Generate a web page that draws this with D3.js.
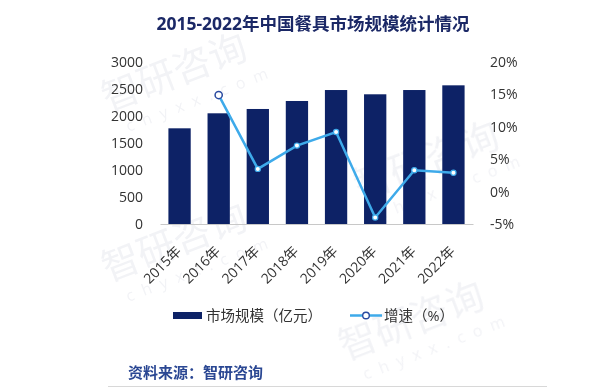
<!DOCTYPE html>
<html>
<head>
<meta charset="utf-8">
<script src="https://cdn.jsdelivr.net/npm/d3@7"></script>
<style>
  html, body { margin: 0; padding: 0; background: #fff; }
  svg text { font-family: "Open Sans", "Noto Sans CJK SC", sans-serif; }
</style>
</head>
<body>
<svg id="chart"></svg>
<script>
// data
const years = ['2015年', '2016年', '2017年', '2018年', '2019年', '2020年', '2021年', '2022年'];
const marketSize = [1772, 2050, 2130, 2278, 2481, 2402, 2481, 2568];   // 亿元
const growth = [null, 14.9, 3.5, 7.1, 9.2, -4.0, 3.3, 2.9];            // %
const leftTicks = [0, 500, 1000, 1500, 2000, 2500, 3000];
const rightTicks = [-5, 0, 5, 10, 15, 20];

const W = 612, H = 391;
const colors = { bar: '#0d2266', line: '#3eaaea', title: '#1b2866', text: '#333', source: '#2a4793' };

const svg = d3.select('#chart').attr('width', W).attr('height', H);
svg.append('rect').attr('width', W).attr('height', H).attr('fill', '#fff');

// watermarks (faint), kept inside the card
const wm = svg.append('g').attr('fill', '#1b2866').attr('opacity', 0.055);
const wmSpots = [[108, 112], [108, 282], [360, 200], [345, 360]];
wmSpots.forEach(p => {
  const g = wm.append('g').attr('transform', `translate(${p[0]},${p[1]}) rotate(-21)`);
  g.append('text').attr('font-size', 38).attr('x', 0).attr('y', 0).text('智研咨询');
  g.append('text').attr('font-size', 16).attr('x', 12).attr('y', 26)
    .attr('letter-spacing', 9).text('chyxx.com');
});

// title
svg.append('text')
  .attr('x', 313).attr('y', 30)
  .attr('text-anchor', 'middle')
  .attr('font-size', 17.5).attr('font-weight', 'bold')
  .attr('fill', colors.title)
  .text('2015-2022年中国餐具市场规模统计情况');

// scales
const x = d3.scaleBand().domain(years).range([160, 473]).paddingInner(0.43).paddingOuter(0.215);
const yL = d3.scaleLinear().domain([0, 3000]).range([224, 62]);
const yR = d3.scaleLinear().domain([-5, 20]).range([224, 62]);

// left axis
const leftAxis = svg.append('g').attr('transform', 'translate(143,0)')
  .call(d3.axisLeft(yL).tickValues(leftTicks).tickSize(0).tickPadding(0).tickFormat(d3.format('d')));
leftAxis.select('.domain').remove();
leftAxis.selectAll('text').attr('font-size', 14).attr('fill', colors.text)
  .attr('font-family', '"Open Sans", sans-serif');

// right axis
const rightAxis = svg.append('g').attr('transform', 'translate(490,0)')
  .call(d3.axisRight(yR).tickValues(rightTicks).tickSize(0).tickPadding(0).tickFormat(d => d + '%'));
rightAxis.select('.domain').remove();
rightAxis.selectAll('text').attr('font-size', 14).attr('fill', colors.text)
  .attr('font-family', '"Open Sans", sans-serif');

// bars
svg.append('g').selectAll('rect')
  .data(marketSize)
  .join('rect')
  .attr('x', (d, i) => x(years[i]))
  .attr('y', d => yL(d))
  .attr('width', x.bandwidth())
  .attr('height', d => yL(0) - yL(d))
  .attr('fill', colors.bar);

// baseline
const xAxis = svg.append('g').attr('transform', `translate(0,${yL(0)})`)
  .call(d3.axisBottom(x).tickSize(0).tickFormat(''));
xAxis.select('.domain').attr('stroke', '#c8c8c8').attr('stroke-width', 1);

// x labels rotated
svg.append('g').selectAll('text')
  .data(years)
  .join('text')
  .attr('transform', d => `translate(${x(d) + x.bandwidth() / 2 + 2.5},${yL(0) + 28}) rotate(-45)`)
  .attr('text-anchor', 'end')
  .attr('font-size', 14)
  .attr('fill', colors.text)
  .text(d => d);

// growth line
const pts = growth.map((g, i) => ({ year: years[i], g })).filter(d => d.g !== null);
const line = d3.line().x(d => x(d.year) + x.bandwidth() / 2).y(d => yR(d.g));
svg.append('path').datum(pts)
  .attr('d', line)
  .attr('fill', 'none')
  .attr('stroke', colors.line)
  .attr('stroke-width', 2.5);
svg.append('g').selectAll('circle')
  .data(pts)
  .join('circle')
  .attr('cx', d => x(d.year) + x.bandwidth() / 2)
  .attr('cy', d => yR(d.g))
  .attr('r', (d, i) => i === 0 ? 3.6 : 2.6)
  .attr('fill', '#fff')
  .attr('stroke', (d, i) => i === 0 ? '#2a4aa0' : colors.line)
  .attr('stroke-width', (d, i) => i === 0 ? 1.5 : 1.2);

// legend
const legend = svg.append('g').attr('font-size', 14.5).attr('fill', colors.text);
legend.append('rect').attr('x', 173).attr('y', 312).attr('width', 29).attr('height', 7).attr('fill', colors.bar);
legend.append('text').attr('x', 206).attr('y', 320.5).text('市场规模（亿元）');
legend.append('line').attr('x1', 350).attr('x2', 382).attr('y1', 315.5).attr('y2', 315.5)
  .attr('stroke', colors.line).attr('stroke-width', 2.5);
legend.append('circle').attr('cx', 366).attr('cy', 315.5).attr('r', 3.3)
  .attr('fill', '#fff').attr('stroke', '#2a4aa0').attr('stroke-width', 1.4);
legend.append('text').attr('x', 384).attr('y', 320.5).text('增速（%）');

// source
svg.append('text')
  .attr('x', 128).attr('y', 378)
  .attr('font-size', 15).attr('font-weight', 'bold')
  .attr('fill', colors.source)
  .text('资料来源：智研咨询');

svg.append('line').attr('x1', 108).attr('x2', 547).attr('y1', 386.5).attr('y2', 386.5)
  .attr('stroke', '#d8d8d8').attr('stroke-width', 1);
</script>
</body>
</html>
